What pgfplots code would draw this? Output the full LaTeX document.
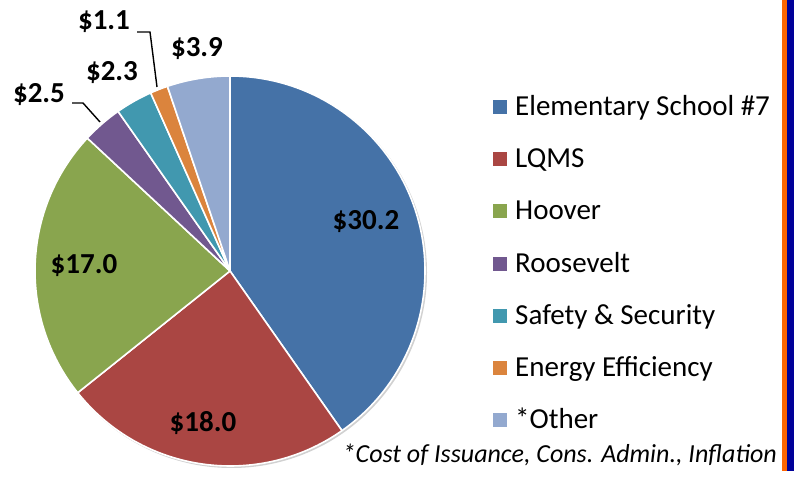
\documentclass[border=0pt]{standalone}
\usepackage{pgfplots}
\pgfplotsset{compat=1.18}
\usepackage{fontspec}
\setmainfont{Carlito}
\definecolor{cA}{HTML}{4572A7}
\definecolor{cB}{HTML}{AA4643}
\definecolor{cC}{HTML}{89A54E}
\definecolor{cD}{HTML}{71588F}
\definecolor{cE}{HTML}{4198AF}
\definecolor{cF}{HTML}{DB843D}
\definecolor{cG}{HTML}{93A9CF}
\definecolor{barO}{HTML}{FF6600}
\definecolor{barB}{HTML}{000099}
% data (millions of dollars)
\def\vA{30.2}\def\vB{18.0}\def\vC{17.0}\def\vD{2.5}\def\vE{2.3}\def\vF{1.1}\def\vG{3.9}
\pgfmathsetmacro\tot{\vA+\vB+\vC+\vD+\vE+\vF+\vG}
\pgfmathsetmacro\aA{90}
\pgfmathsetmacro\aB{\aA-360*\vA/\tot}
\pgfmathsetmacro\aC{\aB-360*\vB/\tot}
\pgfmathsetmacro\aD{\aC-360*\vC/\tot}
\pgfmathsetmacro\aE{\aD-360*\vD/\tot}
\pgfmathsetmacro\aF{\aE-360*\vE/\tot}
\pgfmathsetmacro\aG{\aF-360*\vF/\tot}
\pgfmathsetmacro\aH{\aG-360*\vG/\tot}
\newcommand\slice[3]{\fill[#3, draw=white, line width=1.6pt, line join=round] (axis cs:230,200) -- ++(#1:195pt) arc[start angle=#1, end angle=#2, radius=195pt] -- cycle;}
\newcommand\legrow[3]{%
  \fill[#2] (axis cs:493,#1-7) rectangle (axis cs:507,#1+7);
  \node[anchor=base west, inner sep=0pt, font=\fontsize{29}{32}\selectfont] at (axis cs:515,#1-9) {#3};}
\begin{document}
\begin{tikzpicture}
\begin{axis}[width=794pt, height=471pt, scale only axis,
  xmin=0, xmax=794, ymin=0, ymax=471, hide axis, clip=false]
\path (axis cs:0,0) rectangle (axis cs:794,471);
% shadow
\fill[black!18] (axis cs:231.5,198.5) circle[radius=195.5pt];
\slice{\aA}{\aB}{cA}
\slice{\aB}{\aC}{cB}
\slice{\aC}{\aD}{cC}
\slice{\aD}{\aE}{cD}
\slice{\aE}{\aF}{cE}
\slice{\aF}{\aG}{cF}
\slice{\aG}{\aH}{cG}
% labels
\begin{scope}[every node/.style={font=\bfseries\fontsize{29}{32}\selectfont, inner sep=0pt}]
\node at (axis cs:366,249) {\$30.2};
\node at (axis cs:203,48) {\$18.0};
\node at (axis cs:84,205) {\$17.0};
\node at (axis cs:39,376) {\$2.5};
\node at (axis cs:112,398) {\$2.3};
\node at (axis cs:104,449) {\$1.1};
\node at (axis cs:197,422) {\$3.9};
\end{scope}
\draw[black, line width=1.4pt] (axis cs:72,368) -- (axis cs:83,368) -- (axis cs:100,349);
\draw[black, line width=1.4pt] (axis cs:137,439) -- (axis cs:150,439) -- (axis cs:157,384);
% legend
\legrow{364}{cA}{Elementary School \#7}
\legrow{312}{cB}{LQMS}
\legrow{260}{cC}{Hoover}
\legrow{207}{cD}{Roosevelt}
\legrow{155}{cE}{Safety \& Security}
\legrow{103}{cF}{Energy Efficiency}
\legrow{51}{cG}{*Other}
\node[anchor=base east, inner sep=0pt, font=\itshape\fontsize{26}{28}\selectfont] at (axis cs:777,8) {*Cost of Issuance, Cons. Admin., Inflation};
% right edge bars
\fill[barO] (axis cs:782,0) rectangle (axis cs:787.3,471);
\fill[barB] (axis cs:787.3,0) rectangle (axis cs:794,471);
\end{axis}
\end{tikzpicture}
\end{document}
